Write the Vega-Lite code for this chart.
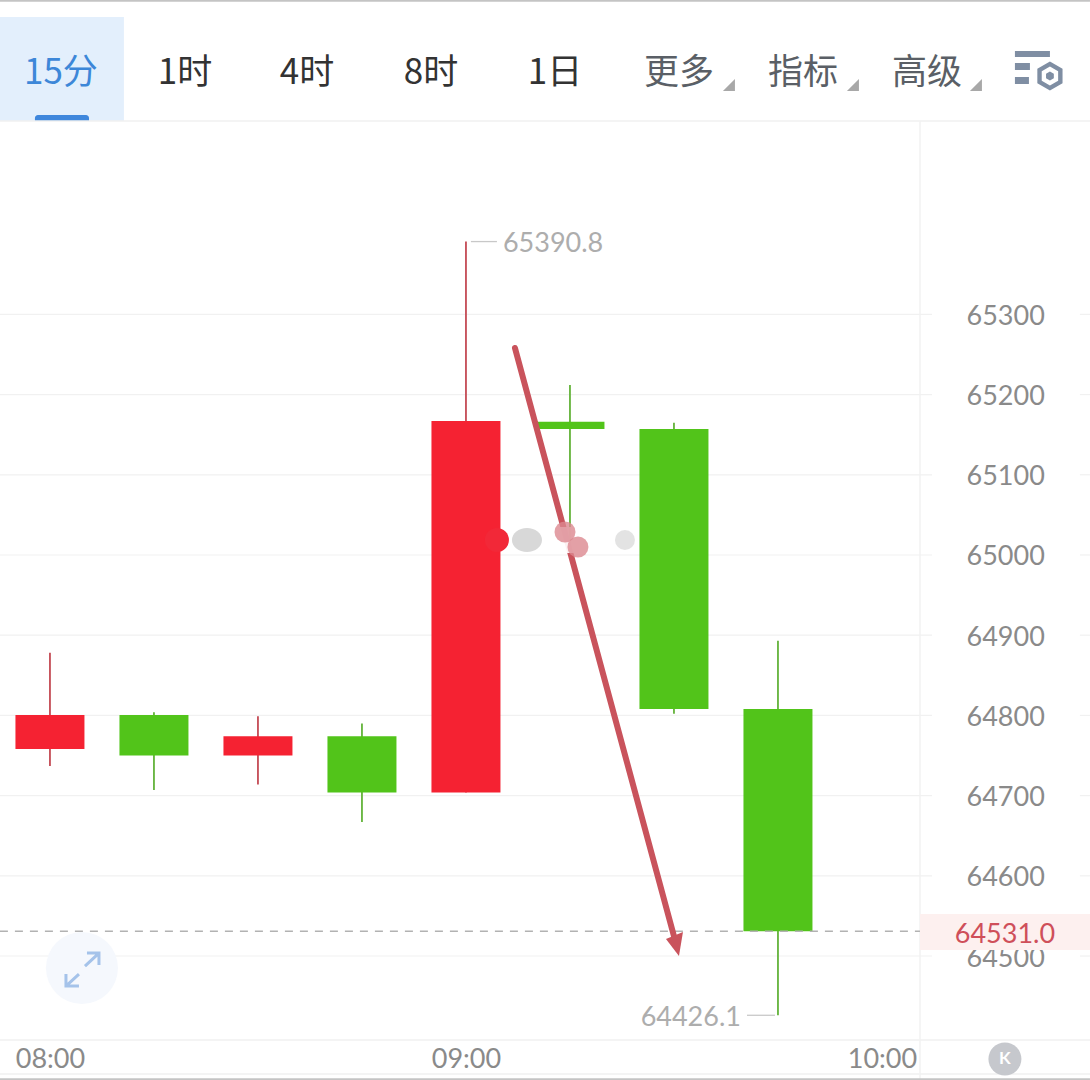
{"$schema":"https://vega.github.io/schema/vega-lite/v6.json","width":1090,"height":1080,"padding":0,"autosize":{"type":"none"},"background":"#ffffff","view":{"stroke":null},"config":{"text":{"font":"Lato"}},
"layer":[
{"data":{"values":[{"t":"2024-01-01T07:52:47","t2":"2024-01-01T08:10:40","v":65670.8,"v2":65541.1}]},"mark":{"type":"rect","color":"#e3effc"},"encoding":{
"x":{"field":"t","type":"temporal","title":null,"scale":{"domain":[{"year":2024,"month":1,"date":1,"hours":7,"minutes":53,"seconds":31},{"year":2024,"month":1,"date":1,"hours":10,"minutes":29,"seconds":17}],"nice":false},"axis":{"orient":"bottom","offset":-21,"values":[{"year":2024,"month":1,"date":1,"hours":8},{"year":2024,"month":1,"date":1,"hours":9},{"year":2024,"month":1,"date":1,"hours":10}],"format":"%H:%M","grid":false,"ticks":false,"domain":false,"labelPadding":0,"labelBaseline":"middle","labelFontSize":27,"labelFont":"Lato","labelColor":"#8a8a8a","labelOverlap":false,"labelFlush":false}},
"x2":{"field":"t2"},
"y":{"field":"v","type":"quantitative","title":null,"scale":{"domain":[64345.4,65692],"nice":false,"zero":false},"axis":{"orient":"right","offset":-124,"values":[64500,64600,64700,64800,64900,65000,65100,65200,65300],"format":"d","grid":false,"ticks":false,"domain":false,"labelPadding":0,"labelAlign":"left","labelOffset":2,"labelFontSize":27,"labelFont":"Lato","labelColor":"#8a8a8a","labelOverlap":false,"labelFlush":false}},
"y2":{"field":"v2"}}},
{"data":{"values":[{"t":"2024-01-01T07:57:50","t2":"2024-01-01T08:05:38","v":65548.6,"v2":65541.1}]},"mark":{"type":"rect","color":"#3f87dc","cornerRadiusTopLeft":6,"cornerRadiusTopRight":6},"encoding":{"x":{"field":"t","type":"temporal"},"x2":{"field":"t2"},"y":{"field":"v","type":"quantitative"},"y2":{"field":"v2"}}},
{"data":{"values":[{"t":"2024-01-01T07:52:47","t2":"2024-01-01T10:30:00","v":65541.1},{"t":"2024-01-01T07:52:47","t2":"2024-01-01T10:30:00","v":64395.3},{"t":"2024-01-01T07:52:47","t2":"2024-01-01T10:30:00","v":64352.9}]},"mark":{"type":"rule","color":"#f0f0f0","strokeWidth":1.5},"encoding":{"x":{"field":"t","type":"temporal"},"x2":{"field":"t2"},"y":{"field":"v","type":"quantitative"}}},
{"data":{"values":[{"t":"2024-01-01T10:05:29","v":65541.1,"v2":64345.4}]},"mark":{"type":"rule","color":"#f2f2f2","strokeWidth":1.5},"encoding":{"x":{"field":"t","type":"temporal"},"y":{"field":"v","type":"quantitative"},"y2":{"field":"v2"}}},
{"data":{"values":[{"t":"2024-01-01T07:52:47","t2":"2024-01-01T10:30:00","v":65691.2},{"t":"2024-01-01T07:52:47","t2":"2024-01-01T10:30:00","v":64346.4}]},"mark":{"type":"rule","color":"#c4c4c4","strokeWidth":2},"encoding":{"x":{"field":"t","type":"temporal"},"x2":{"field":"t2"},"y":{"field":"v","type":"quantitative"}}},
{"data":{"values":[
{"t":"2024-01-01T07:52:47","t2":"2024-01-01T10:07:13","v":64500},{"t":"2024-01-01T07:52:47","t2":"2024-01-01T10:07:13","v":64600},{"t":"2024-01-01T07:52:47","t2":"2024-01-01T10:07:13","v":64700},{"t":"2024-01-01T07:52:47","t2":"2024-01-01T10:07:13","v":64800},{"t":"2024-01-01T07:52:47","t2":"2024-01-01T10:07:13","v":64900},{"t":"2024-01-01T07:52:47","t2":"2024-01-01T10:07:13","v":65000},{"t":"2024-01-01T07:52:47","t2":"2024-01-01T10:07:13","v":65100},{"t":"2024-01-01T07:52:47","t2":"2024-01-01T10:07:13","v":65200},{"t":"2024-01-01T07:52:47","t2":"2024-01-01T10:07:13","v":65300},
{"t":"2024-01-01T10:28:33","t2":"2024-01-01T10:30:00","v":64500},{"t":"2024-01-01T10:28:33","t2":"2024-01-01T10:30:00","v":64600},{"t":"2024-01-01T10:28:33","t2":"2024-01-01T10:30:00","v":64700},{"t":"2024-01-01T10:28:33","t2":"2024-01-01T10:30:00","v":64800},{"t":"2024-01-01T10:28:33","t2":"2024-01-01T10:30:00","v":64900},{"t":"2024-01-01T10:28:33","t2":"2024-01-01T10:30:00","v":65000},{"t":"2024-01-01T10:28:33","t2":"2024-01-01T10:30:00","v":65100},{"t":"2024-01-01T10:28:33","t2":"2024-01-01T10:30:00","v":65200},{"t":"2024-01-01T10:28:33","t2":"2024-01-01T10:30:00","v":65300}]},"mark":{"type":"rule","color":"#f1f1f1","strokeWidth":1.2},"encoding":{"x":{"field":"t","type":"temporal"},"x2":{"field":"t2"},"y":{"field":"v","type":"quantitative"}}},
{"data":{"name":"candles","values":[
{"time":"2024-01-01T08:00:00","open":64758,"close":64800.5,"high":64878,"low":64737},
{"time":"2024-01-01T08:15:00","open":64800.5,"close":64750,"high":64804,"low":64707},
{"time":"2024-01-01T08:30:00","open":64750,"close":64774,"high":64799,"low":64714},
{"time":"2024-01-01T08:45:00","open":64774,"close":64704,"high":64790,"low":64667},
{"time":"2024-01-01T09:00:00","open":64704,"close":65167,"high":65390.8,"low":64704},
{"time":"2024-01-01T09:15:00","open":65166,"close":65157,"high":65212,"low":65012},
{"time":"2024-01-01T09:30:00","open":65157,"close":64808,"high":65165,"low":64802},
{"time":"2024-01-01T09:45:00","open":64808,"close":64531,"high":64893,"low":64426.1}]},
"mark":{"type":"rule","strokeWidth":1.8},"encoding":{"x":{"field":"time","type":"temporal"},"y":{"field":"low","type":"quantitative"},"y2":{"field":"high"},"color":{"condition":{"test":"datum.close>=datum.open","value":"#c44a54"},"value":"#63b33a"}}},
{"data":{"name":"candles"},"mark":{"type":"bar","size":69},"encoding":{"x":{"field":"time","type":"temporal"},"y":{"field":"open","type":"quantitative"},"y2":{"field":"close"},"color":{"condition":{"test":"datum.close>=datum.open","value":"#f52232"},"value":"#52c41a"}}},
{"data":{"values":[{"t":"2024-01-01T07:52:47","t2":"2024-01-01T10:05:29","v":64531}]},"mark":{"type":"rule","color":"#b2b2b2","strokeWidth":1.5,"strokeDash":[8,7]},"encoding":{"x":{"field":"t","type":"temporal"},"x2":{"field":"t2"},"y":{"field":"v","type":"quantitative"}}},
{"data":{"values":[{"t":"2024-01-01T10:05:29","t2":"2024-01-01T10:30:00","v":64552.4,"v2":64507.5}]},"mark":{"type":"rect","color":"#fdf0ef"},"encoding":{"x":{"field":"t","type":"temporal"},"x2":{"field":"t2"},"y":{"field":"v","type":"quantitative"},"y2":{"field":"v2"}}},
{"data":{"values":[{"t":"2024-01-01T10:17:44","v":64528.7,"label":"64531.0"}]},"mark":{"type":"text","font":"Lato","fontSize":27,"color":"#cf4f5a","align":"center","baseline":"middle","dy":2},"encoding":{"x":{"field":"t","type":"temporal"},"y":{"field":"v","type":"quantitative"},"text":{"field":"label"}}},
{"data":{"values":[{"t":"2024-01-01T09:00:43","t2":"2024-01-01T09:04:28","v":65390.8},{"t":"2024-01-01T09:40:32","t2":"2024-01-01T09:44:34","v":64426.1}]},"mark":{"type":"rule","color":"#c8c8c8","strokeWidth":1.3},"encoding":{"x":{"field":"t","type":"temporal"},"x2":{"field":"t2"},"y":{"field":"v","type":"quantitative"}}},
{"data":{"values":[{"t":"2024-01-01T09:05:20","v":65390.8,"label":"65390.8"}]},"mark":{"type":"text","font":"Lato","fontSize":27,"color":"#adadad","align":"left","baseline":"middle","dy":2},"encoding":{"x":{"field":"t","type":"temporal"},"y":{"field":"v","type":"quantitative"},"text":{"field":"label"}}},
{"data":{"values":[{"t":"2024-01-01T09:39:40","v":64426.1,"label":"64426.1"}]},"mark":{"type":"text","font":"Lato","fontSize":27,"color":"#adadad","align":"right","baseline":"middle","dy":3},"encoding":{"x":{"field":"t","type":"temporal"},"y":{"field":"v","type":"quantitative"},"text":{"field":"label"}}},
{"data":{"values":[{"t":"2024-01-01T09:07:04","v":65258.1},{"t":"2024-01-01T09:30:09","v":64520}]},"mark":{"type":"line","color":"#c9535c","strokeWidth":6,"strokeCap":"round"},"encoding":{"x":{"field":"t","type":"temporal"},"y":{"field":"v","type":"quantitative"}}},
{"data":{"values":[{"t":"2024-01-01T09:30:00","v":64515}]},"mark":{"type":"point","shape":"M-0.8 -0.5 L0.9 -1.2 L0.5 1.2 Z","size":400,"filled":true,"color":"#c9535c","opacity":1},"encoding":{"x":{"field":"t","type":"temporal"},"y":{"field":"v","type":"quantitative"}}},
{"data":{"values":[{"t":"2024-01-01T09:06:21","t2":"2024-01-01T09:24:23","v":65034.9,"v2":65002.5}]},"mark":{"type":"rect","color":"#ffffff","opacity":0.92},"encoding":{"x":{"field":"t","type":"temporal"},"x2":{"field":"t2"},"y":{"field":"v","type":"quantitative"},"y2":{"field":"v2"}}},
{"data":{"values":[{"t":"2024-01-01T09:04:28","v":65018.7}]},"mark":{"type":"point","shape":"circle","size":576,"filled":true,"color":"#f22838","opacity":1},"encoding":{"x":{"field":"t","type":"temporal"},"y":{"field":"v","type":"quantitative"}}},
{"data":{"values":[{"t":"2024-01-01T09:08:48","v":65018.7}]},"mark":{"type":"point","shape":"M-1.5 0 A1.5 1.2 0 1 0 1.5 0 A1.5 1.2 0 1 0 -1.5 0 Z","size":400,"filled":true,"color":"#d4d4d4","opacity":0.9},"encoding":{"x":{"field":"t","type":"temporal"},"y":{"field":"v","type":"quantitative"}}},
{"data":{"values":[{"t":"2024-01-01T09:22:56","v":65018.7}]},"mark":{"type":"point","shape":"circle","size":400,"filled":true,"color":"#dcdcdc","opacity":0.8},"encoding":{"x":{"field":"t","type":"temporal"},"y":{"field":"v","type":"quantitative"}}},
{"data":{"values":[{"t":"2024-01-01T09:14:17","v":65028.7},{"t":"2024-01-01T09:16:09","v":65010}]},"mark":{"type":"point","shape":"circle","size":440,"filled":true,"color":"#dc8890","opacity":0.8},"encoding":{"x":{"field":"t","type":"temporal"},"y":{"field":"v","type":"quantitative"}}},
{"data":{"values":[{"t":"2024-01-01T08:04:37","v":64485}]},"mark":{"type":"point","shape":"circle","size":5184,"filled":true,"color":"#f5f8fd","opacity":1},"encoding":{"x":{"field":"t","type":"temporal"},"y":{"field":"v","type":"quantitative"}}},
{"data":{"values":[{"t":"2024-01-01T08:04:37","v":64485}]},"mark":{"type":"point","shape":"M0.3 -0.2 L1.7 -1.5 M0.5 -1.5 L1.7 -1.5 L1.7 -0.3 M-0.3 0.6 L-1.6 1.8 M-1.6 0.6 L-1.6 1.8 L-0.3 1.8","size":400,"filled":false,"stroke":"#a5c3ea","strokeWidth":3,"opacity":1},"encoding":{"x":{"field":"t","type":"temporal"},"y":{"field":"v","type":"quantitative"}}},
{"data":{"values":[{"t":"2024-01-01T10:17:44","v":64371.6}]},"mark":{"type":"point","shape":"circle","size":1089,"filled":true,"color":"#c6c8cd","opacity":1},"encoding":{"x":{"field":"t","type":"temporal"},"y":{"field":"v","type":"quantitative"}}},
{"data":{"values":[{"t":"2024-01-01T10:17:44","v":64371.6,"label":"K"}]},"mark":{"type":"text","font":"Lato","fontWeight":"bold","fontSize":17,"color":"#ffffff","align":"center","baseline":"middle"},"encoding":{"x":{"field":"t","type":"temporal"},"y":{"field":"v","type":"quantitative"},"text":{"field":"label"}}},
{"data":{"values":[{"t":"2024-01-01T09:37:56","v":65586},{"t":"2024-01-01T09:55:49","v":65586},{"t":"2024-01-01T10:13:33","v":65586}]},"mark":{"type":"point","shape":"M1 -1 L1 1 L-1 1 Z","size":144,"filled":true,"color":"#a8a8a8","opacity":1},"encoding":{"x":{"field":"t","type":"temporal"},"y":{"field":"v","type":"quantitative"}}},
{"data":{"values":[{"t":"2024-01-01T10:22:47","v":65604.7}]},"mark":{"type":"point","shape":"M-2.5 -1.9 L1 -1.9 L1 -1.3 L-2.5 -1.3 Z M-2.5 -0.7 L-1 -0.7 L-1 0 L-2.5 0 Z M-2.5 0.7 L-1.1 0.7 L-1.1 1.4 L-2.5 1.4 Z M1 -0.85 L2.26 -0.125 L2.26 1.325 L1 2.05 L-0.26 1.325 L-0.26 -0.125 Z M1 -0.35 L0.18 0.125 L0.18 1.075 L1 1.55 L1.82 1.075 L1.82 0.125 Z M1 0.15 L1.39 0.375 L1.39 0.825 L1 1.05 L0.61 0.825 L0.61 0.375 Z","size":400,"filled":true,"color":"#7f8ea3","opacity":1},"encoding":{"x":{"field":"t","type":"temporal"},"y":{"field":"v","type":"quantitative"}}},
{"data":{"values":[{"tab":"15分","t":"2024-01-01T08:01:35"},{"tab":"1时","t":"2024-01-01T08:19:28"},{"tab":"4时","t":"2024-01-01T08:37:04"},{"tab":"8时","t":"2024-01-01T08:54:57"},{"tab":"1日","t":"2024-01-01T09:12:50"},{"tab":"更多","t":"2024-01-01T09:30:44"},{"tab":"指标","t":"2024-01-01T09:48:37"},{"tab":"高级","t":"2024-01-01T10:06:30"}]},
"mark":{"type":"text","font":"Noto Sans CJK SC","fontSize":35,"align":"center","baseline":"middle","dy":2},
"encoding":{"x":{"field":"t","type":"temporal"},
"y":{"datum":65603.5,"type":"quantitative"},
"text":{"field":"tab"},
"color":{"condition":[{"test":"datum.tab==='15分'","value":"#3d87d8"},{"test":"indexof(['更多','指标','高级'],datum.tab)>=0","value":"#5a5f66"}],"value":"#333333"}}}
]}
